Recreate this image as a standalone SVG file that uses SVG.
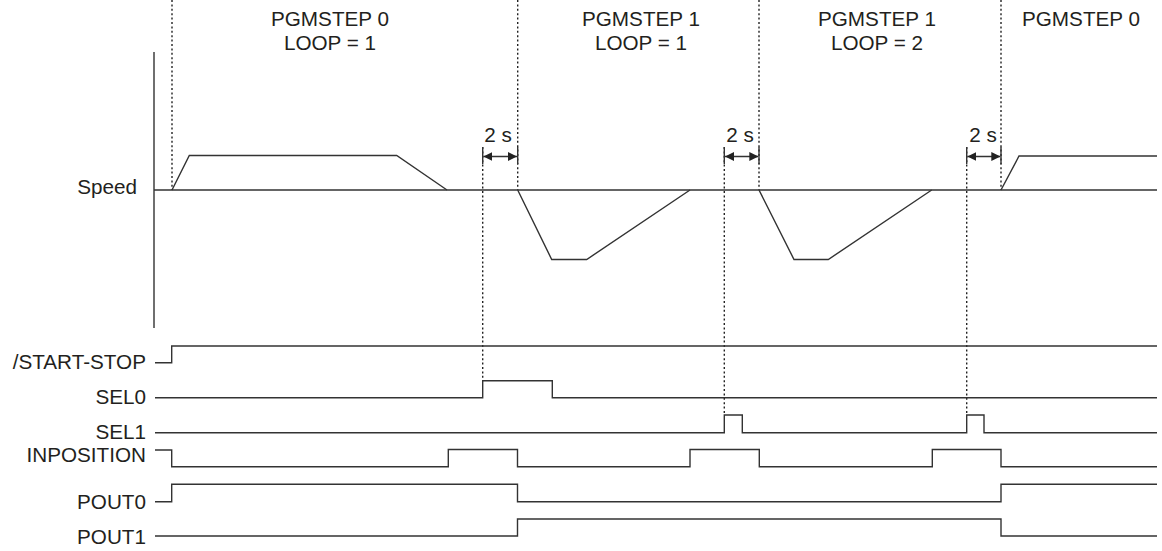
<svg xmlns="http://www.w3.org/2000/svg" width="1162" height="551" viewBox="0 0 1162 551">
<style>
text{font-family:"Liberation Sans",Arial,sans-serif;font-size:20.7px;fill:#231f20}
.l{text-anchor:end}
.c{text-anchor:middle}
.s{fill:none;stroke:#333;stroke-width:1.4}
.d{fill:none;stroke:#222;stroke-width:1.4;stroke-dasharray:2 2.4}
.a{fill:none;stroke:#333;stroke-width:1.4;marker-start:url(#ah);marker-end:url(#ah)}
</style>
<defs>
<marker id="ah" viewBox="0 0 10 10" refX="10" refY="5" markerWidth="9" markerHeight="9" markerUnits="userSpaceOnUse" orient="auto-start-reverse">
<path d="M0,0 L10,5 L0,10 z" fill="#222"/>
</marker>
</defs>
<g id="headers">
<text class="c" x="330" y="26">PGMSTEP 0</text>
<text class="c" x="330" y="50">LOOP = 1</text>
<text class="c" x="641" y="26">PGMSTEP 1</text>
<text class="c" x="641" y="50">LOOP = 1</text>
<text class="c" x="877" y="26">PGMSTEP 1</text>
<text class="c" x="877" y="50">LOOP = 2</text>
<text class="c" x="1081" y="26">PGMSTEP 0</text>
</g>
<g id="labels">
<text class="l" x="137" y="194">Speed</text>
<text class="l" x="146" y="369">/START-STOP</text>
<text class="l" x="146" y="404">SEL0</text>
<text class="l" x="146" y="439">SEL1</text>
<text class="l" x="146" y="462">INPOSITION</text>
<text class="l" x="146" y="509">POUT0</text>
<text class="l" x="146" y="544">POUT1</text>
</g>
<g id="guides">
<path class="d" d="M172,0 V190 M482.7,147 V380.7 M517.7,0 V190 M724.3,147 V415 M759,0 V190 M966.7,147 V415 M1001,0 V190"/>
</g>
<g id="speed">
<path class="s" d="M154,52 V328 M154,190 H1157"/>
<path class="s" d="M172,190 L189.3,155.5 H396.7 L447,190 M517.7,190 L551.7,259.5 H586.7 L690,190 M759,190 L794,259.5 H828.3 L931.7,190 M1001,190 L1019,156 H1157"/>
</g>
<g id="intervals">
<path class="s" d="M482.7,147 V164 M517.7,147 V164 M724.3,147 V164 M759,147 V164 M966.7,147 V164 M1001,147 V164"/>
<path class="a" d="M483.4,156.5 H517"/>
<path class="a" d="M725,156.5 H758.3"/>
<path class="a" d="M967.4,156.5 H1000.3"/>
<text class="c" x="498" y="141.5">2 s</text>
<text class="c" x="740" y="141.5">2 s</text>
<text class="c" x="983" y="141.5">2 s</text>
</g>
<g id="signals">
<path class="s" d="M155,362.7 H171.7 V346 H1157"/>
<path class="s" d="M155,397.7 H482.7 V380.7 H552.3 V397.7 H1157"/>
<path class="s" d="M155,432.7 H724.3 V415 H742.3 V432.7 H966.7 V415 H984 V432.7 H1157"/>
<path class="s" d="M155,450 H171.7 V466.7 H448.3 V449.5 H517.5 V466.7 H690 V449.5 H759.3 V466.7 H932.3 V449.5 H1001 V466.7 H1157"/>
<path class="s" d="M155,501.7 H171.7 V484.3 H517.5 V501.7 H1001 V484.3 H1157"/>
<path class="s" d="M155,536 H517.5 V519 H1001 V536 H1157"/>
</g>
</svg>
